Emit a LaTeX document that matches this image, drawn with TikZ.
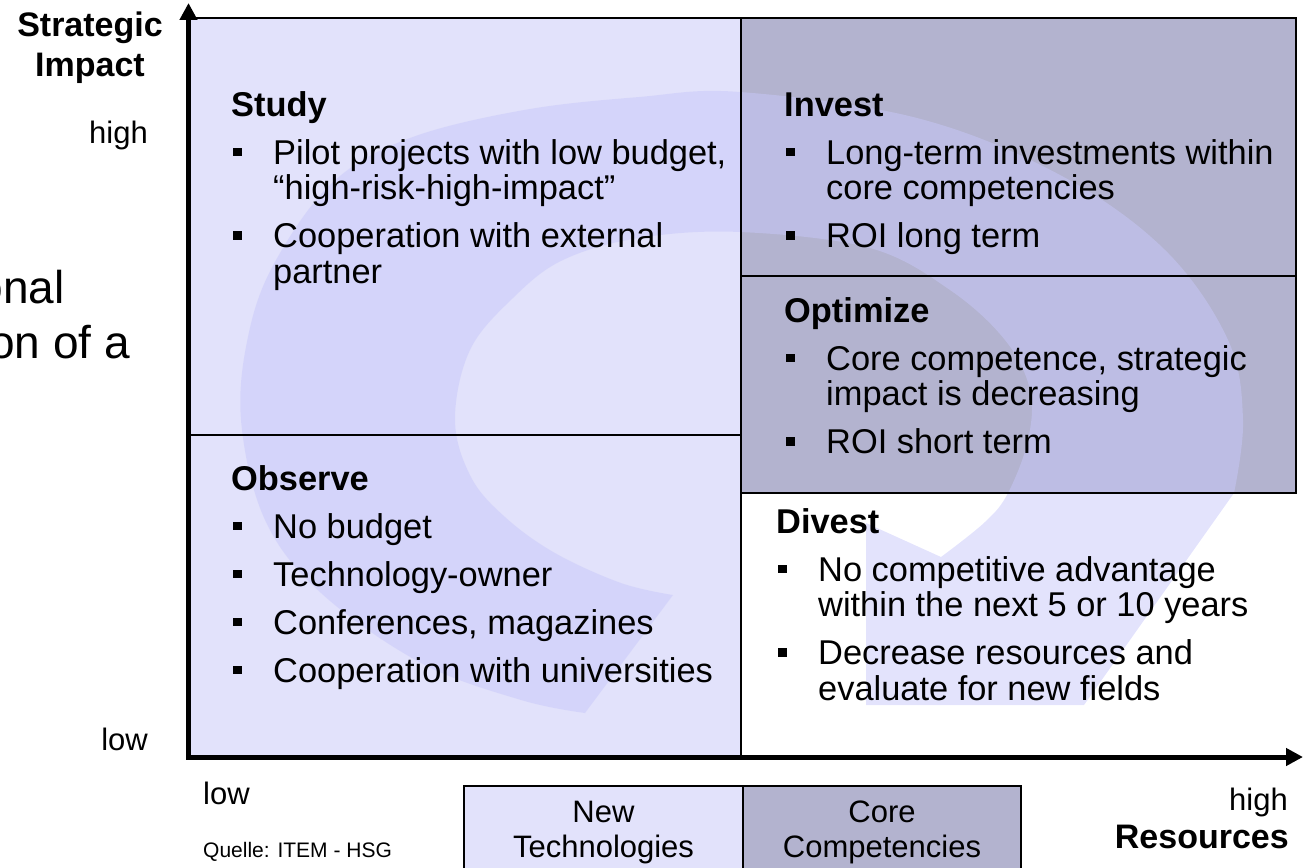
\documentclass[tikz,border=0pt]{standalone}
\usepackage{fontspec}
\setmainfont{Liberation Sans}
\usetikzlibrary{arrows.meta,calc}
\definecolor{lightbox}{RGB}{226,226,251}
\definecolor{darkbox}{RGB}{179,179,207}
\definecolor{wmark}{RGB}{200,200,250}
\newcommand{\sqb}{\makebox[42pt][l]{\hspace{2pt}\rule[8pt]{8.5pt}{8.5pt}}}
\newcommand{\cnt}{\hspace*{42pt}}
\newcommand{\toplines}[2]{\begin{tabular}[t]{@{}#1@{}}#2\end{tabular}}

\begin{document}
\begin{tikzpicture}[x=1pt,y=-1pt,
  frame/.style={draw=black,line width=2pt},
  axis/.style={line width=5pt,-{Triangle[length=17pt,width=17pt]}},
  block/.style={anchor=base west,inner sep=0pt,font=\fontsize{34.4}{35.5}\selectfont},
  tick/.style={inner sep=0pt,font=\fontsize{31}{35}\selectfont},
  axistitle/.style={inner sep=0pt,font=\bfseries\fontsize{34}{40}\selectfont}]
\useasboundingbox (0,0) rectangle (1303,867);
\clip (0,0) rectangle (1303,867);

% text cut off at the left edge
\node[anchor=base east,inner sep=0pt,font=\fontsize{46}{55}\selectfont] (frag1) at (65,303) {onal};
\node[anchor=base east,inner sep=0pt,font=\fontsize{46}{55}\selectfont] (frag2) at (130,358) {on of a};

% quadrants
\fill[lightbox] (188,18) rectangle (741,757);
\fill[darkbox] (741,18) rectangle (1296,493);

% logo in the background
\fill[wmark,opacity=0.5]
  plot[smooth,tension=0.6] coordinates {(585,713) (521,700) (421,663) (321,593) (265,520) (241,420) (249,332) (276,260) (333,182) (410,138) (524,110) (639,97) (740,92) (917,118) (1060,175) (1165,250) (1228,340) (1243,420) (1234,493)}
  -- (1084,705) -- (866,705) -- (866,523) -- (941,557)
  -- plot[smooth,tension=0.6] coordinates {(941,557) (985,522) (1008,493) (1028,440) (1030,390) (1005,340) (950,290) (870,248) (740,232) (639,238) (563,260) (513,298) (470,350) (455,420) (471,477) (505,517) (555,553) (621,583) (673,595)}
  -- cycle;

\draw[frame] (188,18) -- (1296,18) -- (1296,493) -- (741,493);
\draw[frame] (741,18) -- (741,757);
\draw[frame] (188,435) -- (741,435);
\draw[frame] (741,276) -- (1296,276);

\node[block] (study) at (231,116) {\toplines{l}{{\bfseries Study}\\[12.5pt]
  \sqb Pilot projects with low budget,\\ \cnt “high-risk-high-impact”\\[12.5pt]
  \sqb Cooperation with external\\ \cnt partner}};
\node[block] (observe) at (231,490) {\toplines{l}{{\bfseries Observe}\\[12.5pt]
  \sqb No budget\\[12.5pt]
  \sqb Technology-owner\\[12.5pt]
  \sqb Conferences, magazines\\[12.5pt]
  \sqb Cooperation with universities}};
\node[block] (invest) at (784,116) {\toplines{l}{{\bfseries Invest}\\[12.5pt]
  \sqb Long-term investments within\\ \cnt core competencies\\[12.5pt]
  \sqb ROI long term}};
\node[block] (optimize) at (784,322) {\toplines{l}{{\bfseries Optimize}\\[12.5pt]
  \sqb Core competence, strategic\\ \cnt impact is decreasing\\[12.5pt]
  \sqb ROI short term}};
\node[block] (divest) at (776,533) {\toplines{l}{{\bfseries Divest}\\[12.5pt]
  \sqb No competitive advantage\\ \cnt within the next 5 or 10 years\\[12.5pt]
  \sqb Decrease resources and\\ \cnt evaluate for new fields}};

% axes
\coordinate (O) at (188.5,757);
\coordinate (ytip) at (188.5,3);
\coordinate (xtip) at (1303,757);
\draw[axis] (O) -- (ytip);
\draw[axis] ($(O)+(-2.5,0)$) -- (xtip);

\node[axistitle,anchor=base] (yname) at (90,37) {\toplines{c}{Strategic\\Impact}};
\node[tick,anchor=base east] (yhigh) at (148,143) {high};
\node[tick,anchor=base east] (ylow) at (148,750) {low};
\node[tick,anchor=base west] (xlow) at (203,804) {low};
\node[tick,anchor=base east] (xhigh) at (1288,810) {high};
\node[axistitle,anchor=base east] (xname) at (1289,848) {Resources};
\node[anchor=base west,inner sep=0pt,font=\fontsize{21}{21}\selectfont] (source) at (203,857) {Quelle: ITEM - HSG};

% categories below the axis
\node[frame,fill=lightbox,anchor=north west,minimum width=279pt,minimum height=100pt,inner sep=0pt] (newtech) at (463,785) {};
\node[frame,fill=darkbox,anchor=north west,minimum width=278pt,minimum height=100pt,inner sep=0pt] (corecomp) at (742,785) {};
\node[tick,anchor=base] (newtechtext) at ($(newtech.north)+(0,37)$) {\toplines{c}{New\\Technologies}};
\node[tick,anchor=base] (corecomptext) at ($(corecomp.north)+(0,37)$) {\toplines{c}{Core\\Competencies}};
\end{tikzpicture}
\end{document}
